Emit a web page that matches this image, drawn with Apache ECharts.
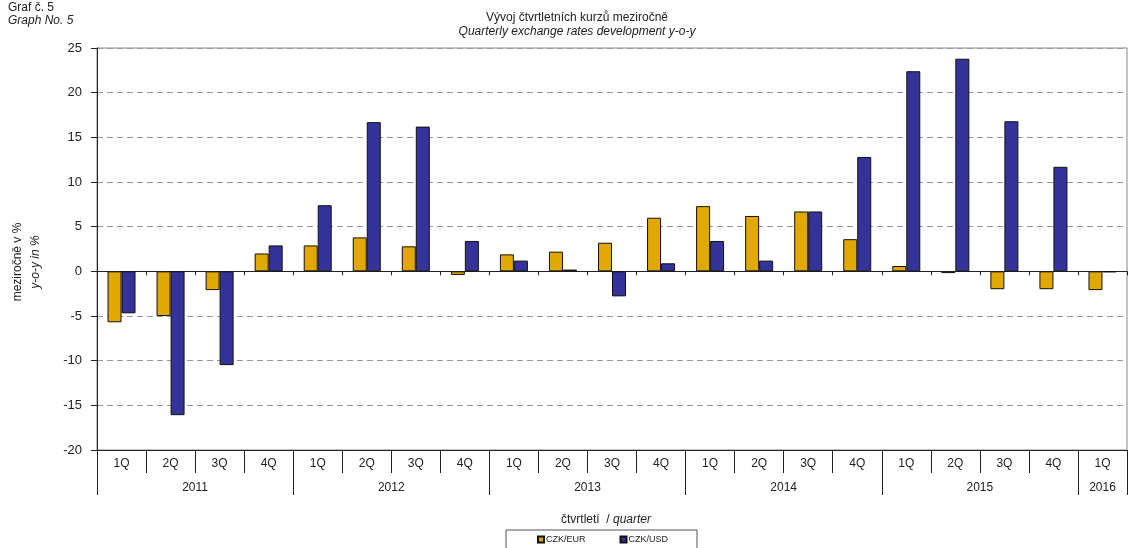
<!DOCTYPE html>
<html><head><meta charset="utf-8">
<script src="https://cdn.jsdelivr.net/npm/echarts@6/dist/echarts.min.js"></script>
<style>html,body{margin:0;padding:0;background:#fff}#c{width:1128px;height:548px}</style>
</head><body><div id="c"></div>
<script>
const quarters = ['1Q','2Q','3Q','4Q','1Q','2Q','3Q','4Q','1Q','2Q','3Q','4Q','1Q','2Q','3Q','4Q','1Q','2Q','3Q','4Q','1Q'];
const years = ['2011','2012','2013','2014','2015','2016'];
const yearCounts = [4,4,4,4,4,1];
const czkEur = [-5.7,-5.0,-2.1,2.0, 2.9,3.8,2.8,-0.4, 1.9,2.2,3.2,6.0, 7.3,6.2,6.7,3.6, 0.6,-0.2,-2.0,-2.0, -2.1];
const czkUsd = [-4.7,-16.1,-10.5,2.9, 7.4,16.7,16.2,3.4, 1.2,0.2,-2.8,0.9, 3.4,1.2,6.7,12.8, 22.4,23.8,16.8,11.7, -0.1];
const yTicks = {min:-20, max:25, interval:5};

const FONT = 'Liberation Sans';
const bounds = [0]; yearCounts.forEach(c => bounds.push(bounds[bounds.length-1]+c));
const yearCenters = years.map((y,i) => (bounds[i]+bounds[i+1])/2);
const centerToYear = {}; yearCenters.forEach((c,i) => centerToYear[c] = years[i]);

const chart = echarts.init(document.getElementById('c'));
chart.setOption({
  animation:false,
  textStyle:{fontFamily:FONT},
  grid:{left:97,right:1,top:48,bottom:98,show:true,borderColor:'#888',borderWidth:1,backgroundColor:'transparent'},
  legend:{
    data:['CZK/EUR','CZK/USD'],
    left:506, top:530,
    orient:'horizontal',
    itemWidth:6, itemHeight:6, itemGap:34,
    icon:'rect',
    padding:[5,29,6,31],
    borderColor:'#555', borderWidth:1,
    textStyle:{fontSize:9,color:'#222',fontFamily:FONT,padding:[0,0,0,-3]}
  },
  xAxis:[
    {type:'category',data:quarters,position:'bottom',
     axisLine:{onZero:true,lineStyle:{color:'#222',width:1}},
     axisTick:{show:true,length:4,lineStyle:{color:'#222'}},
     axisLabel:{show:false},splitLine:{show:false}},
    {type:'category',data:quarters,position:'bottom',
     axisLine:{onZero:false,lineStyle:{color:'#222',width:1}},
     axisTick:{show:true,length:23,lineStyle:{color:'#222'}},
     axisLabel:{show:true,fontSize:12,color:'#222',margin:8,fontFamily:FONT},
     splitLine:{show:false}},
    {type:'value',min:0,max:bounds[bounds.length-1],position:'bottom',
     axisLine:{onZero:false,show:false},
     axisTick:{show:true,length:45,customValues:bounds,lineStyle:{color:'#222'}},
     axisLabel:{show:true,customValues:yearCenters,fontSize:12,color:'#222',margin:32,fontFamily:FONT,
       formatter:v=>centerToYear[v]||''},
     splitLine:{show:false}}
  ],
  yAxis:{type:'value',min:yTicks.min,max:yTicks.max,interval:yTicks.interval,
    axisLine:{show:true,lineStyle:{color:'#222'}},
    axisTick:{show:true,length:6,lineStyle:{color:'#222'}},
    axisLabel:{fontSize:13,color:'#222',margin:15,fontFamily:FONT},
    splitLine:{show:true,lineStyle:{color:'#999',type:[6,4],width:1}}},
  series:[
    {name:'CZK/EUR',type:'bar',xAxisIndex:0,data:czkEur,barWidth:14,barGap:'0%',
     itemStyle:{color:'#E0A800',borderColor:'#111',borderWidth:1}},
    {name:'CZK/USD',type:'bar',xAxisIndex:0,data:czkUsd,barWidth:14,barGap:'0%',
     itemStyle:{color:'#333399',borderColor:'#111',borderWidth:1}}
  ],
  graphic:[
    {type:'text',left:8,top:2,style:{text:'Graf č. 5',font:'12px "Liberation Sans"',fill:'#222'}},
    {type:'text',left:8,top:15,style:{text:'Graph No. 5',font:'italic 12px "Liberation Sans"',fill:'#222'}},
    {type:'text',x:577,y:12,style:{text:'Vývoj čtvrtletních kurzů meziročně',font:'12px "Liberation Sans"',fill:'#222',align:'center'}},
    {type:'text',x:577,y:26,style:{text:'Quarterly exchange rates development y-o-y',font:'italic 12px "Liberation Sans"',fill:'#222',align:'center'}},
    {type:'text',x:18,y:262,rotation:Math.PI/2,style:{text:'meziročně v %',font:'12px "Liberation Sans"',fill:'#222',align:'center',verticalAlign:'middle'}},
    {type:'text',x:36,y:262,rotation:Math.PI/2,style:{text:'y-o-y in %',font:'italic 12px "Liberation Sans"',fill:'#222',align:'center',verticalAlign:'middle'}},
    {type:'text',x:606,y:514,style:{
      text:'{a|čtvrtletí  / }{b|quarter}',align:'center',
      rich:{a:{font:'12px "Liberation Sans"',fill:'#222'},b:{font:'italic 12px "Liberation Sans"',fill:'#222'}}}}
  ]
});
</script></body></html>
